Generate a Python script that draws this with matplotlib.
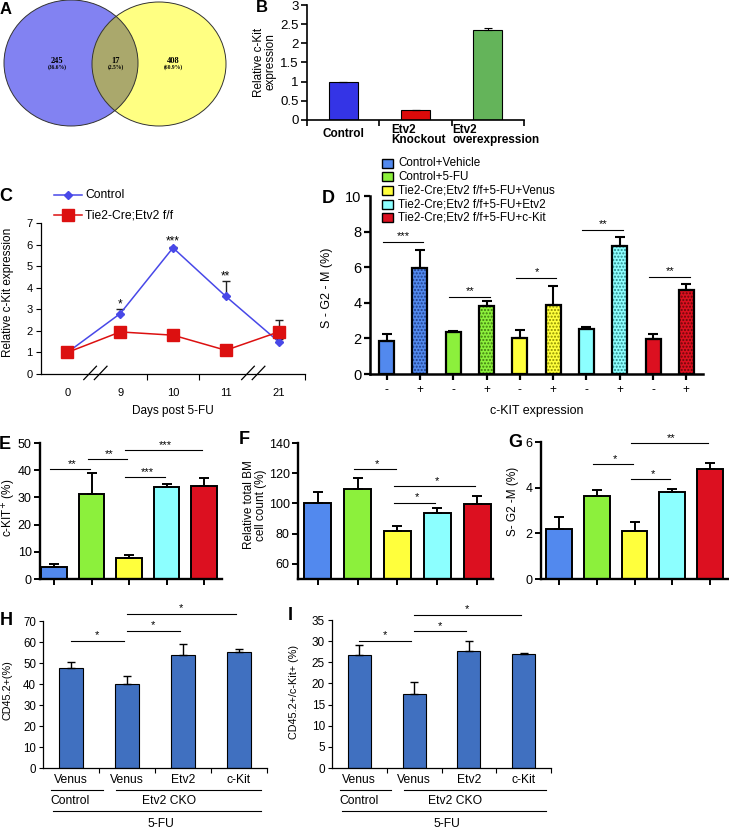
import matplotlib
matplotlib.use('Agg')
import matplotlib.pyplot as plt
import matplotlib.transforms as mtransforms
import numpy as np
from matplotlib.patches import Ellipse, Rectangle

plt.rcParams['font.family'] = ['Liberation Sans', 'DejaVu Sans']
plt.rcParams['hatch.linewidth'] = 1.0

W, H = 729, 830
fig = plt.figure(figsize=(W / 100, H / 100), dpi=100)


def rect(l, t, r, b):
    return [l / W, 1 - b / H, (r - l) / W, (b - t) / H]


# ---------------- data ----------------
venn_counts = ['245', '17', '408']
venn_pcts = ['(36.6%)', '(2.5%)', '(60.9%)']

b_cats = ['Control', 'Etv2\nKnockout', 'Etv2\noverexpression']
b_vals = [1.0, 0.25, 2.35]
b_err = [0.0, 0.02, 0.05]
b_colors = ['#3434e6', '#dc0a0a', '#64b45a']

c_days = ['0', '9', '10', '11', '21']
c_control = [1.0, 2.8, 5.85, 3.6, 1.5]
c_control_err = [0.0, 0.2, 0.05, 0.7, 0.1]
c_ko = [1.0, 1.95, 1.8, 1.1, 1.95]
c_ko_err = [0.0, 0.0, 0.0, 0.0, 0.55]
c_stars = ['', '*', '***', '**', '']
c_series = ['Control', 'Tie2-Cre;Etv2 f/f']

d_groups = ['Control+Vehicle', 'Control+5-FU', 'Tie2-Cre;Etv2 f/f+5-FU+Venus',
            'Tie2-Cre;Etv2 f/f+5-FU+Etv2', 'Tie2-Cre;Etv2 f/f+5-FU+c-Kit']
group_colors = ['#5289ee', '#8cf03c', '#ffff3c', '#8cffff', '#dc1020']
dot_colors = ['#1f3f8c', '#3f7a10', '#8c8c00', '#2a8a8a', '#6a0808']
d_neg = [1.87, 2.38, 2.0, 2.55, 1.97]
d_neg_err = [0.36, 0.05, 0.47, 0.11, 0.30]
d_pos = [5.95, 3.82, 3.88, 7.19, 4.72]
d_pos_err = [1.02, 0.26, 1.08, 0.49, 0.35]
d_stars = ['***', '**', '*', '**', '**']
d_sig_y = [7.4, 4.34, 5.41, 8.07, 5.43]

e_vals = [4.5, 31.2, 7.9, 33.8, 34.3]
e_err = [1.0, 7.8, 1.1, 1.2, 2.7]
e_pairs = [(0, 1), (1, 2), (2, 4), (2, 3)]
e_sig_y = [40.4, 44.2, 47.3, 37.5]
e_stars = ['**', '**', '***', '***']

f_vals = [100.0, 109.5, 81.7, 93.6, 99.8]
f_err = [7.7, 7.4, 3.1, 3.1, 5.2]
f_pairs = [(1, 2), (2, 4), (2, 3)]
f_sig_y = [122.5, 111.5, 100.6]
f_stars = ['*', '*', '*']

g_vals = [2.2, 3.65, 2.12, 3.79, 4.82]
g_err = [0.52, 0.26, 0.38, 0.15, 0.28]
g_pairs = [(1, 2), (2, 3), (2, 4)]
g_sig_y = [5.04, 4.39, 5.96]
g_stars = ['*', '*', '**']

hi_labels = ['Venus', 'Venus', 'Etv2', 'c-Kit']
h_vals = [47.7, 39.8, 54.0, 55.2]
h_err = [2.7, 4.1, 5.0, 1.7]
h_pairs = [(0, 1), (1, 2), (1, 3)]
h_sig_y = [60.7, 65.4, 73.4]

i_vals = [26.7, 17.6, 27.6, 27.0]
i_err = [2.4, 2.7, 2.4, 0.2]
i_pairs = [(0, 1), (1, 2), (1, 3)]
i_sig_y = [30.0, 32.3, 36.3]

# ---------------- A: Venn ----------------
axA = fig.add_axes(rect(0, 0, 250, 135))
axA.set_xlim(0, 250)
axA.set_ylim(135, 0)
axA.axis('off')
left = Ellipse((71, 63), 134, 126, fc='#8282f2', ec='none')
right = Ellipse((159, 64), 134, 124, fc='#ffff82', ec='none')
axA.add_patch(left)
axA.add_patch(right)
ov = Ellipse((159, 64), 134, 124, fc='#aaa86c', ec='none')
axA.add_patch(ov)
ov.set_clip_path(left)
axA.add_patch(Ellipse((71, 63), 134, 126, fc='none', ec='#333333', lw=0.7))
axA.add_patch(Ellipse((159, 64), 134, 124, fc='none', ec='#333333', lw=0.7))
for xx, c, p in zip([57, 116, 173], venn_counts, venn_pcts):
    axA.text(xx, 61, c, ha='center', va='center', fontsize=6, fontweight='bold',
             family='Liberation Serif')
    axA.text(xx, 67.5, p, ha='center', va='center', fontsize=4, fontweight='bold',
             family='Liberation Serif')

# ---------------- B ----------------
axB = fig.add_axes(rect(307, 5, 524, 120))
xb = np.arange(len(b_vals))
axB.bar(xb, b_vals, width=0.4, color=b_colors, edgecolor='k', lw=0.8, zorder=2)
axB.errorbar(xb, b_vals, yerr=[np.zeros(3), b_err], fmt='none', ecolor='k',
             elinewidth=0.8, capsize=3, capthick=0.8, zorder=3)
axB.set_xlim(-0.5, 2.5)
axB.set_ylim(0, 3)
axB.set_yticks(np.arange(0, 3.01, 0.5))
axB.set_yticklabels(['0', '0.5', '1', '1.5', '2', '2.5', '3'], fontsize=9.5)
axB.set_xticks([-0.5, 0.5, 1.5, 2.5])
axB.set_xticklabels([])
axB.tick_params(axis='both', length=4, width=1.2, pad=2)
for s in ['top', 'right']:
    axB.spines[s].set_visible(False)
for s in ['left', 'bottom']:
    axB.spines[s].set_linewidth(1.2)
trB = axB.get_xaxis_transform()
axB.text(0, -0.126, b_cats[0], transform=trB, ha='center', va='center',
         fontsize=8.5, fontweight='bold')
axB.text(0.66, -0.13, b_cats[1], transform=trB, ha='left', va='center',
         fontsize=8.5, fontweight='bold', linespacing=0.85)
axB.text(1.51, -0.13, b_cats[2], transform=trB, ha='left', va='center',
         fontsize=8.5, fontweight='bold', linespacing=0.85)

# ---------------- C ----------------
axC = fig.add_axes(rect(41, 223, 305, 374))
xc = np.arange(len(c_days))
axC.errorbar(xc, c_control, yerr=[np.zeros(5), c_control_err], fmt='none',
             ecolor='#222222', elinewidth=1, capsize=3, capthick=1, zorder=2)
axC.plot(xc, c_control, color='#4848e8', marker='D', ms=4.5, lw=1.1, zorder=3)
axC.errorbar(xc, c_ko, yerr=[np.zeros(5), c_ko_err], fmt='none',
             ecolor='#222222', elinewidth=1, capsize=3, capthick=1, zorder=4)
axC.plot(xc, c_ko, color='#dc1010', marker='s', ms=8, lw=1.1, zorder=5)
for i, s in enumerate(c_stars):
    if s:
        axC.text(i, c_control[i] + c_control_err[i] - 0.05, s, ha='center',
                 va='bottom', fontsize=8.5)
axC.set_xlim(-0.5, 4.5)
axC.set_ylim(0, 7)
axC.set_yticks(range(8))
axC.set_xticks(xc)
axC.set_xticklabels(c_days, fontsize=8)
axC.set_xticks([1.5, 2.5, 4.5], minor=True)
axC.tick_params(axis='x', which='major', length=0, pad=10)
axC.tick_params(axis='x', which='minor', length=4, width=0.8)
axC.tick_params(axis='y', labelsize=8, length=3.5, width=0.8, pad=2.5)
for s in ['top', 'right']:
    axC.spines[s].set_visible(False)
for s in ['left', 'bottom']:
    axC.spines[s].set_linewidth(0.9)
for x0 in [0.53, 3.52]:
    for dx in [-0.1, 0.1]:
        axC.plot([x0 + dx - 0.12, x0 + dx + 0.12], [-0.26, 0.36], color='k',
                 lw=0.9, clip_on=False)
axC.set_xlabel('Days post 5-FU', fontsize=8.5, labelpad=5)

# ---------------- D ----------------
axD = fig.add_axes(rect(370, 196, 703, 374))
for g in range(5):
    xs = np.array([2 * g, 2 * g + 1])
    vals = [d_neg[g], d_pos[g]]
    errs = [d_neg_err[g], d_pos_err[g]]
    axD.bar(xs, vals, width=0.45, color=group_colors[g], edgecolor='none', zorder=2)
    axD.bar(xs[1:], vals[1:], width=0.45, color='none', edgecolor=dot_colors[g],
            hatch='.....', lw=0, zorder=3)
    axD.bar(xs, vals, width=0.45, color='none', edgecolor='k', lw=1.6, zorder=4)
    axD.errorbar(xs, vals, yerr=[np.zeros(2), errs], fmt='none', ecolor='k',
                 elinewidth=1.5, capsize=3.5, capthick=1.5, zorder=5)
    axD.plot([xs[0] - 0.12, xs[1] + 0.1], [d_sig_y[g]] * 2, color='k', lw=0.8)
    axD.text(xs.mean(), d_sig_y[g] + 0.05, d_stars[g], ha='center', va='bottom',
             fontsize=8)
axD.set_xlim(-0.5, 9.5)
axD.set_ylim(0, 10)
axD.set_yticks(range(0, 11, 2))
axD.set_xticks(range(10))
axD.set_xticklabels(['-', '+'] * 5, fontsize=8.5)
axD.tick_params(axis='y', labelsize=10.5, length=4, width=1.6, pad=2)
axD.tick_params(axis='x', length=4, width=1.6, pad=3)
for s in ['top', 'right']:
    axD.spines[s].set_visible(False)
for s in ['left', 'bottom']:
    axD.spines[s].set_linewidth(1.8)
axD.set_xlabel('c-KIT expression', fontsize=9, labelpad=7)


# ---------------- E, F, G ----------------
def five_bar(ax, vals, errs, pairs, sig_y, stars, ylim, yticks):
    x = np.arange(5)
    ax.bar(x, vals, width=0.68, color=group_colors, edgecolor='k', lw=1.4, zorder=2)
    ax.errorbar(x, vals, yerr=[np.zeros(5), errs], fmt='none', ecolor='k',
                elinewidth=1.4, capsize=3.5, capthick=1.4, zorder=3)
    for (i, j), yy, s in zip(pairs, sig_y, stars):
        ax.plot([i - 0.1, j - 0.05], [yy, yy], color='k', lw=0.8, clip_on=False)
        ax.text((i + j) / 2 - 0.02, yy, s, ha='center', va='bottom', fontsize=8)
    ax.set_ylim(*ylim)
    ax.set_yticks(yticks)
    ax.set_xticks(x)
    ax.set_xticklabels([])
    ax.tick_params(axis='both', length=4, width=1.4, labelsize=9, pad=2)
    for s in ['top', 'right']:
        ax.spines[s].set_visible(False)
    for s in ['left', 'bottom']:
        ax.spines[s].set_linewidth(1.7)


axE = fig.add_axes(rect(40, 443, 222, 579))
five_bar(axE, e_vals, e_err, e_pairs, e_sig_y, e_stars, (0, 50), range(0, 51, 10))
axE.set_xlim(-0.38, 4.48)

axF = fig.add_axes(rect(298, 443, 493, 579))
five_bar(axF, f_vals, f_err, f_pairs, f_sig_y, f_stars, (50, 140), range(60, 141, 20))
axF.set_xlim(-0.5, 4.4)

axG = fig.add_axes(rect(541, 442, 728, 579))
five_bar(axG, g_vals, g_err, g_pairs, g_sig_y, g_stars, (0, 6), range(0, 7, 2))
axG.set_xlim(-0.48, 4.48)


# ---------------- H, I ----------------
def four_bar(ax, vals, errs, pairs, sig_y, ylim, ystep, ysize):
    x = np.arange(4)
    ax.bar(x, vals, width=0.42, color='#4070c0', edgecolor='k', lw=0.8, zorder=2)
    ax.errorbar(x, vals, yerr=[np.zeros(4), errs], fmt='none', ecolor='k',
                elinewidth=1.0, capsize=3, capthick=1.0, zorder=3)
    for (i, j), yy in zip(pairs, sig_y):
        ax.plot([i, j - 0.05], [yy, yy], color='k', lw=0.8, clip_on=False)
        ax.text((i + j) / 2 - 0.03, yy + ylim[1] * 0.005, '*', ha='center',
                va='bottom', fontsize=8)
    ax.set_xlim(-0.5, 3.5)
    ax.set_ylim(*ylim)
    ax.set_yticks(np.arange(ylim[0], ylim[1] + 0.1, ystep))
    ax.set_xticks(x)
    ax.set_xticklabels(hi_labels, fontsize=8.7)
    ax.set_xticks([0.5, 1.5, 2.5, 3.5], minor=True)
    ax.tick_params(axis='x', which='major', length=0, pad=4)
    ax.tick_params(axis='x', which='minor', length=3.5, width=0.8)
    ax.tick_params(axis='y', labelsize=ysize, length=3, width=0.8, pad=2)
    for s in ['top', 'right']:
        ax.spines[s].set_visible(False)
    for s in ['left', 'bottom']:
        ax.spines[s].set_linewidth(0.9)


axH = fig.add_axes(rect(43, 621, 267, 768))
four_bar(axH, h_vals, h_err, h_pairs, h_sig_y, (0, 70), 10, 8.3)

axI = fig.add_axes(rect(332, 620, 551, 768))
four_bar(axI, i_vals, i_err, i_pairs, i_sig_y, (0, 35), 5, 8.5)

# ---------------- overlay (labels, legends) ----------------
ov_ax = fig.add_axes([0, 0, 1, 1])
ov_ax.set_xlim(0, W)
ov_ax.set_ylim(H, 0)
ov_ax.axis('off')

letters = [('A', 6, 10, 12), ('B', 262, 8, 12), ('C', 6, 196, 13), ('D', 328, 198, 13),
           ('E', 5, 444, 13), ('F', 244, 439, 13), ('G', 515, 442, 13),
           ('H', 6, 620, 13), ('I', 290, 615, 13)]
for t, x, y, fs in letters:
    ov_ax.text(x, y, t, ha='center', va='center', fontsize=fs, fontweight='bold')

ylabels = [('Relative c-Kit\nexpression', 265, 62, 8.5),
           ('Relative c-Kit expression', 8, 292, 8.5),
           ('S - G2 - M (%)', 327, 288, 9),
           ('c-KIT$^{+}$ (%)', 9, 508, 8.5),
           ('Relative total BM\ncell count (%)', 255, 505, 8.5),
           ('S- G2 -M (%)', 513, 501, 8.5),
           ('CD45.2+(%)', 8, 690, 7.8),
           ('CD45.2+/c-Kit+ (%)', 294, 692, 7.8)]
for t, x, y, fs in ylabels:
    ov_ax.text(x, y, t, rotation=90, ha='center', va='center', fontsize=fs,
               linespacing=0.95)

# C legend
ov_ax.plot([54, 82], [195, 195], color='#4848e8', lw=1.1)
ov_ax.plot([68], [195], color='#4848e8', marker='D', ms=4.5)
ov_ax.text(85, 195, c_series[0], va='center', fontsize=8.7)
ov_ax.plot([54, 82], [215, 215], color='#dc1010', lw=1.1)
ov_ax.plot([68], [215], color='#dc1010', marker='s', ms=8)
ov_ax.text(85, 215, c_series[1], va='center', fontsize=8.7)

# D legend
for k, (name, col) in enumerate(zip(d_groups, group_colors)):
    yy = 163.5 + 13.5 * k
    ov_ax.add_patch(Rectangle((382, yy - 4.5), 11, 9, fc=col, ec='k', lw=1))
    ov_ax.text(398, yy, name, va='center', fontsize=8.4)

# group annotations below H and I
for ax in (axH, axI):
    tr = mtransforms.blended_transform_factory(ax.transData, ov_ax.transData)
    ov_ax.plot([-0.35, 0.57], [790, 790], color='k', lw=0.8, transform=tr)
    ov_ax.text(-0.01, 801, 'Control', ha='center', va='center', fontsize=8.7, transform=tr)
    ov_ax.plot([0.81, 3.4], [790, 790], color='k', lw=0.8, transform=tr)
    ov_ax.text(1.75, 801, 'Etv2 CKO', ha='center', va='center', fontsize=8.7, transform=tr)
    ov_ax.plot([-0.32, 3.4], [811, 811], color='k', lw=0.8, transform=tr)
    ov_ax.text(1.6, 824, '5-FU', ha='center', va='center', fontsize=8.7, transform=tr)

fig.savefig('out.png', dpi=100)
